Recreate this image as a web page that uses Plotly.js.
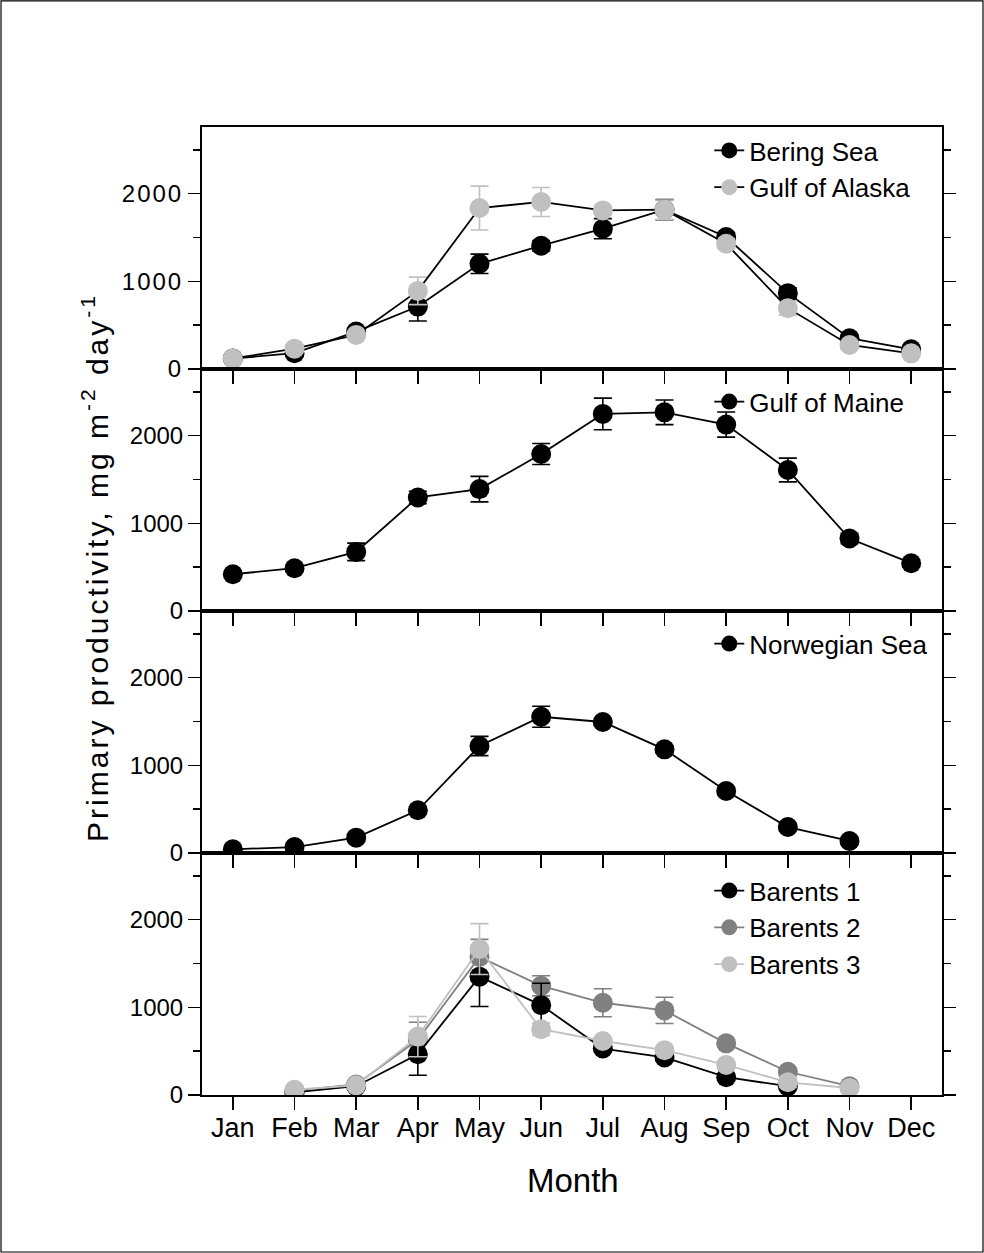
<!DOCTYPE html>
<html>
<head>
<meta charset="utf-8">
<script src="https://cdn.plot.ly/plotly-3.0.1.min.js"></script>
<style>
  html, body { margin: 0; padding: 0; background: #fff; }
  #chart { width: 984px; height: 1253px; }
  .ytick text { letter-spacing: 2px; }
  g.annotation[data-index="0"] text { letter-spacing: 3px; }
</style>
</head>
<body>
<div id="chart"></div>
<script>
// ---- data ----
const months = ['Jan','Feb','Mar','Apr','May','Jun','Jul','Aug','Sep','Oct','Nov','Dec'];

const beringSea      = [120, 180, 427, 712, 1200, 1406, 1600, 1817, 1505, 865, 351, 225];
const beringSeaErr   = [20, 30, 40, 165, 110, 60, 115, 115, 50, 60, 40, 30];
const gulfAlaska     = [120, 232, 389, 891, 1836, 1905, 1809, 1817, 1428, 694, 274, 179];
const gulfAlaskaErr  = [20, 30, 30, 157, 250, 165, 50, 110, 60, 80, 40, 30];

const gulfMaine      = [419, 488, 674, 1295, 1390, 1790, 2248, 2266, 2126, 1608, 827, 545];
const gulfMaineErr   = [30, 30, 100, 70, 145, 120, 180, 140, 143, 135, 60, 40];

const norwegianSea    = [42, 68, 175, 487, 1220, 1554, 1494, 1182, 707, 296, 137, null];
const norwegianSeaErr = [20, 20, 30, 40, 110, 120, 40, 40, 40, 40, 30, null];

const barents1    = [null, 30, 100, 465, 1350, 1025, 530, 428, 203, 100, null, null];
const barents1Err = [null, 20, 30, 240, 340, 250, 40, 40, 30, 30, null, null];
const barents2    = [null, 50, 120, 630, 1575, 1245, 1052, 965, 589, 265, 100, null];
const barents2Err = [null, 20, 40, 200, 200, 115, 160, 150, 40, 40, 30, null];
const barents3    = [null, 60, 110, 666, 1665, 750, 616, 511, 343, 145, 80, null];
const barents3Err = [null, 30, 40, 230, 290, 70, 40, 30, 40, 60, 30, null];

const yTitle = 'Primary productivity, mg m<sup>-2</sup> day<sup>-1</sup>';
const xTitle = 'Month';

// ---- styling ----
const FONT = 'Liberation Sans, Arial, sans-serif';
const BLACK = '#000000', MID = '#808080', LIGHT = '#c0c0c0';

function series(name, y, err, markerColor, lineColor, xa, ya, legend, rank) {
  return {
    type: 'scatter', mode: 'lines+markers', name: name,
    x: months, y: y,
    xaxis: xa, yaxis: ya, legend: legend, legendrank: rank,
    connectgaps: false,
    line: { color: lineColor, width: 1.8 },
    marker: { color: markerColor, size: 20, line: { width: 0 } },
    error_y: { type: 'data', array: err, visible: true, color: markerColor, thickness: 1.6, width: 9 }
  };
}

const traces = [
  series('Bering Sea', beringSea, beringSeaErr, BLACK, BLACK, 'x', 'y', 'legend', 1),
  series('Gulf of Alaska', gulfAlaska, gulfAlaskaErr, LIGHT, BLACK, 'x', 'y', 'legend', 2),
  series('Gulf of Maine', gulfMaine, gulfMaineErr, BLACK, BLACK, 'x2', 'y2', 'legend2', 1),
  series('Norwegian Sea', norwegianSea, norwegianSeaErr, BLACK, BLACK, 'x3', 'y3', 'legend3', 1),
  series('Barents 2', barents2, barents2Err, MID, MID, 'x4', 'y4', 'legend4', 2),
  series('Barents 1', barents1, barents1Err, BLACK, BLACK, 'x4', 'y4', 'legend4', 1),
  series('Barents 3', barents3, barents3Err, LIGHT, LIGHT, 'x4', 'y4', 'legend4', 3)
];

function xAxis(anchor, showLabels) {
  return {
    anchor: anchor, type: 'category', categoryorder: 'array', categoryarray: months,
    range: [-0.5, 11.5], showgrid: false, zeroline: false,
    showline: true, linecolor: BLACK, linewidth: 2, mirror: true,
    ticks: 'outside', ticklen: 13, tickwidth: 1.6, tickcolor: BLACK,
    showticklabels: showLabels,
    tickfont: { family: FONT, size: 27, color: BLACK },
    ticklabelstandoff: -5,
    fixedrange: true
  };
}
function yAxis(anchor, domain) {
  return {
    anchor: anchor, domain: domain, range: [0, 2760],
    tick0: 0, dtick: 1000, showgrid: false, zeroline: false,
    showline: true, linecolor: BLACK, linewidth: 2, mirror: 'allticks',
    ticks: 'outside', ticklen: 12, tickwidth: 1.6, tickcolor: BLACK,
    minor: { dtick: 500, ticks: 'outside', ticklen: 7, tickwidth: 1.6, tickcolor: BLACK, showgrid: false },
    tickfont: { family: FONT, size: 24, color: BLACK },
    ticklabelstandoff: 0,
    fixedrange: true
  };
}

function legendAt(y) {
  return {
    x: 0.6855, y: y, xanchor: 'left', yanchor: 'top',
    bgcolor: 'rgba(0,0,0,0)', borderwidth: 0,
    font: { family: FONT, size: 26, color: BLACK },
    tracegroupgap: 0, itemsizing: 'trace', traceorder: 'normal'
  };
}

const layout = {
  width: 984, height: 1253,
  margin: { l: 202, r: 42, t: 127, b: 158, pad: 0 },
  paper_bgcolor: '#ffffff', plot_bgcolor: 'rgba(0,0,0,0)',
  font: { family: FONT, color: BLACK },
  showlegend: true,
  xaxis:  xAxis('y', false),
  xaxis2: xAxis('y2', false),
  xaxis3: xAxis('y3', false),
  xaxis4: xAxis('y4', true),
  xaxis5: {
    overlaying: 'x', anchor: 'y', side: 'top', type: 'category',
    categoryorder: 'array', categoryarray: months, range: [-0.5, 11.5],
    showgrid: false, zeroline: false, showline: false,
    ticks: 'inside', ticklen: 7, tickwidth: 1.6, tickcolor: BLACK,
    showticklabels: false, fixedrange: true
  },
  yaxis:  yAxis('x', [0.75, 1]),
  yaxis2: yAxis('x2', [0.5, 0.75]),
  yaxis3: yAxis('x3', [0.25, 0.5]),
  yaxis4: yAxis('x4', [0, 0.25]),
  legend:  legendAt(1.0),
  legend2: legendAt(0.7405),
  legend3: legendAt(0.4905),
  legend4: legendAt(0.2354),
  annotations: [
    { text: yTitle, xref: 'paper', yref: 'paper', x: -0.1446, y: 0.5455,
      xanchor: 'center', yanchor: 'middle', textangle: -90, showarrow: false,
      font: { family: FONT, size: 30, color: BLACK } },
    { text: xTitle, xref: 'paper', yref: 'paper', x: 0.5014, y: -0.0888,
      xanchor: 'center', yanchor: 'middle', showarrow: false,
      font: { family: FONT, size: 33, color: BLACK } }
  ],
  shapes: [
    { type: 'rect', xref: 'paper', yref: 'paper',
      x0: -0.2716, x1: 1.0554, y0: -0.1622, y1: 1.1302,
      line: { color: BLACK, width: 1.2 }, fillcolor: 'rgba(0,0,0,0)', layer: 'below' }
  ]
};

Plotly.newPlot('chart', traces, layout, { displayModeBar: false, staticPlot: true });
</script>
</body>
</html>
